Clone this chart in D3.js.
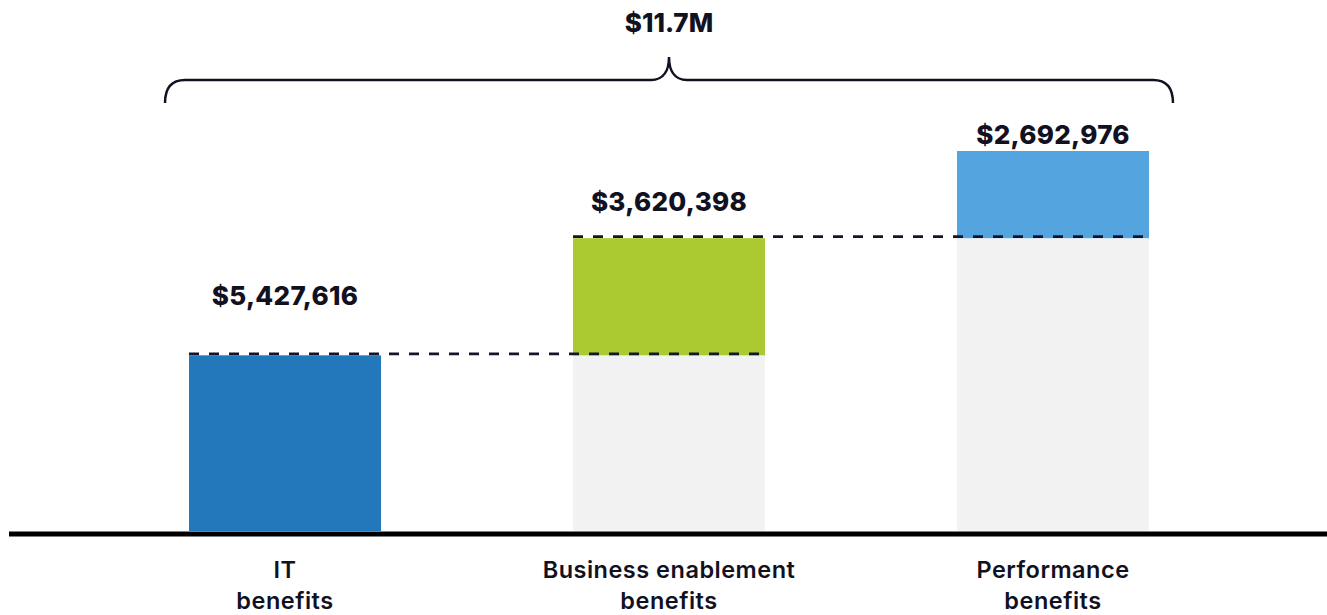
<!DOCTYPE html>
<html>
<head>
<meta charset="utf-8">
<script src="https://cdn.jsdelivr.net/npm/d3@7"></script>
<style>
  html, body { margin: 0; padding: 0; background: #ffffff; }
  svg { display: block; }
  text { font-family: Inter, "Noto Sans", sans-serif; fill: #111122; }
</style>
</head>
<body>
<svg id="chart" width="1327" height="615"></svg>
<script>
// ---- data ----
const categories = ["IT benefits", "Business enablement benefits", "Performance benefits"];
const categoryLines = [["IT", "benefits"], ["Business enablement", "benefits"], ["Performance", "benefits"]];
const values = [5427616, 3620398, 2692976];
const totalLabel = "$11.7M";

// ---- layout / style ----
const W = 1327, H = 615;
const colors = ["#2278bb", "#abca32", "#54a4e0"];
const baseColor = "#f2f2f2";
const labelGap = [50, 27, 7];   // vertical gap between value label baseline and bar top

const svg = d3.select("#chart");

// cumulative bases
const starts = [];
let acc = 0;
values.forEach(v => { starts.push(acc); acc += v; });
const total = acc;

const x = d3.scaleBand().domain(categories).range([93, 1245]).paddingInner(0.5).paddingOuter(0.25);
const y = d3.scaleLinear().domain([0, total]).range([531, 151]);

const fmt = d3.format("$,");

const g = svg.append("g");

// grey base bars
g.selectAll("rect.base").data(categories).join("rect")
  .attr("class", "base")
  .attr("x", d => x(d))
  .attr("width", x.bandwidth())
  .attr("y", (d, i) => y(starts[i]))
  .attr("height", (d, i) => y(0) - y(starts[i]))
  .attr("fill", baseColor);

// value bars
g.selectAll("rect.val").data(categories).join("rect")
  .attr("class", "val")
  .attr("x", d => x(d))
  .attr("width", x.bandwidth())
  .attr("y", (d, i) => y(starts[i] + values[i]))
  .attr("height", (d, i) => y(starts[i]) - y(starts[i] + values[i]))
  .attr("fill", (d, i) => colors[i]);

// dashed connectors
const conns = categories.slice(0, -1).map((d, i) => ({ i, from: d, to: categories[i + 1] }));
g.selectAll("line.conn").data(conns).join("line")
  .attr("class", "conn")
  .attr("x1", d => x(d.from))
  .attr("x2", d => x(d.to) + x.bandwidth())
  .attr("y1", d => y(starts[d.i] + values[d.i]) - 1.5)
  .attr("y2", d => y(starts[d.i] + values[d.i]) - 1.5)
  .attr("stroke", "#15152a")
  .attr("stroke-width", 2.6)
  .attr("stroke-dasharray", "10,10");

// value labels
g.selectAll("text.val").data(categories).join("text")
  .attr("class", "val")
  .attr("x", d => x(d) + x.bandwidth() / 2)
  .attr("y", (d, i) => y(starts[i] + values[i]) - labelGap[i])
  .attr("text-anchor", "middle")
  .attr("font-size", 26)
  .attr("font-weight", 800)
  .attr("letter-spacing", 0.3)
  .text((d, i) => fmt(values[i]));

// baseline
svg.append("line")
  .attr("x1", 9).attr("x2", W)
  .attr("y1", y(0) + 3).attr("y2", y(0) + 3)
  .attr("stroke", "#000").attr("stroke-width", 5);

// category labels
const cl = g.selectAll("text.cat").data(categories).join("text")
  .attr("class", "cat")
  .attr("text-anchor", "middle")
  .attr("font-size", 23.5)
  .attr("font-weight", 600)
  .attr("letter-spacing", 0.5);
cl.selectAll("tspan").data((d, i) => categoryLines[i].map(t => ({ t, c: d }))).join("tspan")
  .attr("x", d => x(d.c) + x.bandwidth() / 2)
  .attr("y", (d, j) => 578 + j * 31)
  .text(d => d.t);

// brace
const bx0 = x(categories[0]) - 24;
const bx1 = x(categories[categories.length - 1]) + x.bandwidth() + 24;
const bm = (bx0 + bx1) / 2;
const by = 80, bEnd = 103, bTip = 57, r = 20;
const path = d3.path();
path.moveTo(bx0, bEnd);
path.quadraticCurveTo(bx0, by, bx0 + r, by);
path.lineTo(bm - 18, by);
path.bezierCurveTo(bm - 5, by, bm, by - 10, bm, bTip);
path.bezierCurveTo(bm, by - 10, bm + 5, by, bm + 18, by);
path.lineTo(bx1 - r, by);
path.quadraticCurveTo(bx1, by, bx1, bEnd);
svg.append("path").attr("d", path.toString())
  .attr("fill", "none").attr("stroke", "#111122").attr("stroke-width", 2.5);

svg.append("text")
  .attr("x", bm).attr("y", 32)
  .attr("text-anchor", "middle")
  .attr("font-size", 26)
  .attr("font-weight", 800)
  .text(totalLabel);
</script>
</body>
</html>
